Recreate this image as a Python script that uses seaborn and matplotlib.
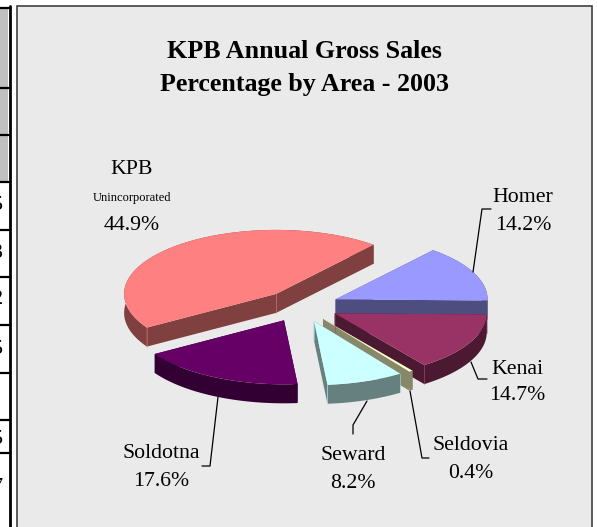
import numpy as np
import seaborn as sns
import matplotlib.pyplot as plt
from matplotlib.patches import Rectangle

# Shares from the chart, clockwise from the 3 o'clock line under Homer
areas = ['Kenai', 'Seldovia', 'Seward', 'Soldotna', 'KPB', 'Homer']
shares = [14.7, 0.4, 8.2, 17.6, 44.9, 14.2]
top_colors = ['#993366', '#FFFFCC', '#CCFFFF', '#660066', '#FF8080', '#9999FF']
side_colors = ['#4C1933', '#87876A', '#668080', '#330033', '#804040', '#4D4D80']
title_lines = ['KPB Annual Gross Sales', 'Percentage by Area - 2003']
cut_digits = ['5', '3', '2', '5', '5', '7']

sns.set_theme(style='white')
plt.rcParams['font.family'] = ['Liberation Serif', 'DejaVu Serif']

fig = plt.figure(figsize=(5.97, 5.27), dpi=100)
ax = fig.add_axes([0, 0, 1, 1])
ax.set_xlim(0, 597)
ax.set_ylim(527, 0)
ax.axis('off')

# table behind the chart, cut off at the left edge
ax.add_patch(Rectangle((0, 8), 8, 174, fc='#C0C0C0', ec='none'))
for y in [8, 88, 135, 182, 230, 277, 325, 373, 420, 453]:
    ax.plot([0, 9], [y, y], color='black', lw=1.6)
ax.plot([9.7, 9.7], [6, 527], color='black', lw=2)
clip = Rectangle((0, 0), 8, 527, transform=ax.transData)
for y, d in zip([205, 254, 300, 350, 440, 487], cut_digits):
    t = ax.text(3, y, d, fontsize=16, ha='right', va='center', color='black')
    t.set_clip_path(clip)

# chart panel
ax.add_patch(Rectangle((16.5, 5.5), 575, 530, fc='#EAEAEA', ec='#404040', lw=1.2))

# exploded pie, drawn as an ellipse seen from above
cx, cy = 301, 306
rx, ry = 152, 64
explode = 38
depth = 19
rotation = -1

ends = rotation - np.cumsum(shares) * 3.6
starts = np.r_[rotation, ends[:-1]]


def rim(a0, a1, x0, y0):
    t = np.radians(np.linspace(a0, a1, 100))
    return x0 + rx * np.cos(t), y0 - ry * np.sin(t)


wedges = []
for i in range(len(areas)):
    mid = np.radians((starts[i] + ends[i]) / 2)
    x0 = cx + explode * np.cos(mid)
    y0 = cy - explode * ry / rx * np.sin(mid)
    wedges.append((i, x0, y0))

# back to front
for i, x0, y0 in [wedges[j] for j in [4, 5, 0, 3, 1, 2]]:
    xs, ys = rim(starts[i], ends[i], x0, y0)
    # cut faces
    for xe, ye in [(xs[0], ys[0]), (xs[-1], ys[-1])]:
        ax.fill([x0, xe, xe, x0], [y0, ye, ye + depth, y0 + depth],
                color=side_colors[i], lw=0)
    # outer wall
    ax.fill(np.r_[xs, xs[::-1]], np.r_[ys, ys[::-1] + depth],
            color=side_colors[i], lw=0)
    ax.fill(np.r_[x0, xs], np.r_[y0, ys], color=top_colors[i], lw=0)
    # light corner lines
    for xe, ye in [(x0, y0), (xs[0], ys[0]), (xs[-1], ys[-1])]:
        if ye > y0 - 1 and areas[i] in ('KPB', 'Kenai', 'Seward'):
            ax.plot([xe, xe], [ye, ye + depth], color=top_colors[i], lw=0.5, alpha=0.6)

# leader lines
leaders = [
    ([473, 482, 491], [272, 209, 209]),
    ([471, 478, 487], [362, 379, 379]),
    ([410, 422, 429], [391, 458, 458]),
    ([367, 353, 353], [401, 425, 434]),
    ([218, 210, 202], [397, 466, 466]),
]
for xs, ys in leaders:
    ax.plot(xs, ys, color='black', lw=0.9)

for y, line in zip([52, 84], title_lines):
    ax.text(304, y, line, fontsize=18.7, fontweight='bold', ha='center', va='center', color='black')

values = dict(zip(areas, shares))
label_pos = {'KPB': (132, 170, 225), 'Homer': (523, 198, 226), 'Kenai': (517, 369, 395),
             'Seldovia': (471, 446, 474), 'Seward': (353, 456, 484), 'Soldotna': (161, 454, 482)}
for name in areas:
    x, y1, y2 = label_pos[name]
    ax.text(x, y1, name, fontsize=15.7, ha='center', va='center', color='black')
    ax.text(x, y2, f'{values[name]:.1f}%', fontsize=15.7, ha='center', va='center', color='black')
ax.text(132, 198, 'Unincorporated', fontsize=9, ha='center', va='center', color='black')

plt.savefig('out.png', dpi=100)
